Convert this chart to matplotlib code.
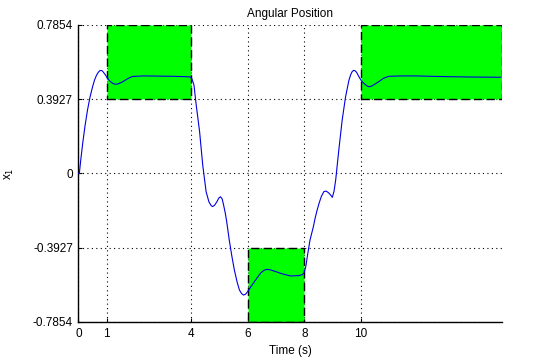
import matplotlib
matplotlib.use("Agg")
import matplotlib.pyplot as plt
from matplotlib.patches import Rectangle

plt.rcParams['font.family'] = ['Liberation Sans', 'DejaVu Sans']

# Data
t = [0.0, 0.03, 0.08, 0.15, 0.23, 0.32, 0.41, 0.50, 0.57, 0.64, 0.70, 0.76, 0.82, 0.87, 0.95,
     1.03, 1.12, 1.21, 1.30, 1.38, 1.50, 1.62, 1.76, 1.91,
     2.3, 2.8, 3.3, 3.8, 3.95, 4.02, 4.09, 4.17, 4.29, 4.40, 4.52, 4.62, 4.70, 4.75, 4.82, 4.90,
     4.97, 5.03, 5.09, 5.14, 5.20, 5.25, 5.34, 5.43, 5.52, 5.62, 5.70, 5.78, 5.85, 5.92, 5.99,
     6.10, 6.23, 6.35, 6.46, 6.57, 6.67, 6.80, 6.93,
     7.22, 7.52, 7.80, 7.93, 7.99, 8.05, 8.12, 8.20, 8.32, 8.38, 8.45, 8.52, 8.60, 8.69, 8.77,
     8.85, 8.92, 8.99, 9.05, 9.11,
     9.22, 9.34, 9.46, 9.58, 9.64, 9.69, 9.74, 9.79, 9.85, 9.90, 9.96, 10.02, 10.12, 10.22,
     10.28, 10.36, 10.45, 10.63, 10.80, 10.99, 11.5, 11.93, 12.5, 13.10, 14.0, 14.95]
x1 = [0.0, 0.0, 0.07, 0.16, 0.25, 0.336, 0.405, 0.459, 0.495, 0.52, 0.535, 0.544, 0.545, 0.538, 0.522,
      0.503, 0.487, 0.477, 0.472, 0.473, 0.480, 0.49, 0.503, 0.513,
      0.516, 0.515, 0.514, 0.512, 0.511, 0.500, 0.468, 0.362, 0.221, 0.045, -0.096, -0.150, -0.170, -0.175, -0.168, -0.150,
      -0.130, -0.123, -0.135, -0.167, -0.210, -0.255, -0.352, -0.435, -0.51, -0.575, -0.616, -0.636, -0.643, -0.638, -0.625,
      -0.600, -0.572, -0.547, -0.525, -0.512, -0.507, -0.510, -0.516,
      -0.531, -0.542, -0.540, -0.535, -0.525, -0.493, -0.425, -0.352, -0.281, -0.237, -0.195, -0.158, -0.122, -0.096, -0.093,
      -0.101, -0.112, -0.126, -0.095, -0.034,
      0.124, 0.283, 0.406, 0.494, 0.522, 0.538, 0.545, 0.544, 0.535, 0.521, 0.505, 0.49, 0.475, 0.463,
      0.459, 0.461, 0.468, 0.485, 0.503, 0.514, 0.516, 0.516, 0.514, 0.512, 0.510, 0.509]

# Target regions: (t_start, t_end, y_low, y_high)
boxes_t0 = [1, 6, 10]
boxes_t1 = [4, 8, 15]
boxes_y0 = [0.3927, -0.7854, 0.3927]
boxes_y1 = [0.7854, -0.3927, 0.7854]

xticks = [0, 1, 4, 6, 8, 10]
yticks = [-0.7854, -0.3927, 0, 0.3927, 0.7854]
ytick_labels = ['-0.7854', '-0.3927', '0', '0.3927', '0.7854']

fig = plt.figure(figsize=(5.55, 3.62), dpi=100)
ax = fig.add_axes([0.1414, 0.1105, 0.9045 - 0.1414, 0.931 - 0.1105])

for a, b, c, d in zip(boxes_t0, boxes_t1, boxes_y0, boxes_y1):
    ax.add_patch(Rectangle((a, c), b - a, d - c, facecolor='#00ff00',
                           edgecolor='black', linestyle=(0, (6, 3)),
                           linewidth=1.0, zorder=2))

ax.plot(t, x1, color='#0000e0', linewidth=0.8, zorder=3)

ax.set_xlim(0, 15)
ax.set_ylim(-0.7854, 0.7854)
ax.set_xticks(xticks)
ax.set_xticklabels([str(v) for v in xticks])
ax.set_yticks(yticks)
ax.set_yticklabels(ytick_labels)

ax.grid(True, color='black', linestyle=(0, (1, 3)), linewidth=0.8)
ax.set_axisbelow(True)
ax.spines['top'].set_visible(False)
ax.spines['right'].set_visible(False)
ax.spines['left'].set_linewidth(1.0)
ax.spines['bottom'].set_linewidth(1.0)
ax.tick_params(direction='in', length=3, labelsize=8.5, pad=4, width=0.8)

ax.set_title('Angular Position', fontsize=8.5, pad=6)
ax.set_xlabel('Time (s)', fontsize=8.5, labelpad=4)
ax.set_ylabel(r'x$_1$', fontsize=8.5, labelpad=12)

fig.savefig('out.png', dpi=100)
